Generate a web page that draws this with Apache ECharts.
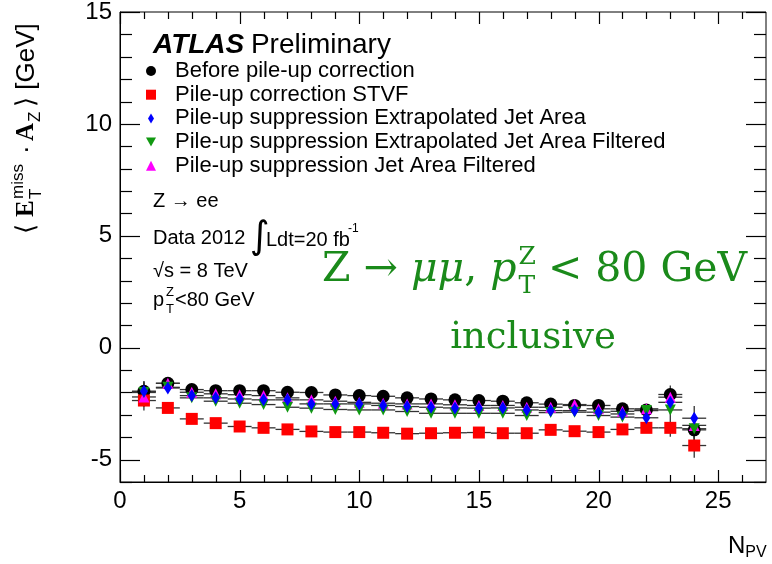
<!DOCTYPE html>
<html>
<head>
<meta charset="utf-8">
<script src="https://cdn.jsdelivr.net/npm/echarts@6/dist/echarts.min.js"></script>
<style>
html, body { margin: 0; padding: 0; background: #fff; }
#main { width: 772px; height: 564px; }
</style>
</head>
<body>
<div id="main"></div>
<script>
// number of primary vertices
const nPV = [1, 2, 3, 4, 5, 6, 7, 8, 9, 10, 11, 12, 13, 14, 15, 16, 17, 18, 19, 20, 21, 22, 23, 24]
// <MET . A_Z> [GeV] per method
const beforeCorr = [-1.95, -1.59, -1.87, -1.92, -1.92, -1.92, -1.99, -2.00, -2.11, -2.14, -2.17, -2.24, -2.29, -2.33, -2.36, -2.39, -2.46, -2.52, -2.58, -2.58, -2.73, -2.78, -2.09, -3.67]
const stvf = [-2.36, -2.69, -3.18, -3.37, -3.52, -3.58, -3.65, -3.74, -3.77, -3.77, -3.80, -3.84, -3.82, -3.80, -3.79, -3.82, -3.82, -3.67, -3.73, -3.77, -3.65, -3.58, -3.58, -4.37]
const extrapJetArea = [-1.95, -1.80, -2.14, -2.24, -2.29, -2.33, -2.33, -2.51, -2.51, -2.51, -2.58, -2.63, -2.66, -2.69, -2.70, -2.69, -2.78, -2.81, -2.81, -2.88, -2.96, -3.13, -2.44, -3.15]
const extrapJetAreaFilt = [-2.00, -1.77, -2.24, -2.39, -2.48, -2.54, -2.66, -2.70, -2.76, -2.78, -2.78, -2.85, -2.93, -2.93, -2.93, -2.93, -3.03, -2.90, -2.88, -3.03, -3.10, -2.81, -2.78, -3.62]
const jetAreaFilt = [-2.20, -1.59, -1.99, -2.06, -2.10, -2.14, -2.24, -2.33, -2.39, -2.44, -2.48, -2.51, -2.51, -2.55, -2.58, -2.58, -2.66, -2.66, -2.54, -2.73, -2.84, -2.73, -2.21, -3.47]
// vertical (stat) error, same for all methods
const yErr = [0.45, 0.10, 0.05, 0.04, 0.03, 0.03, 0.03, 0.03, 0.03, 0.03, 0.03, 0.03, 0.03, 0.03, 0.04, 0.04, 0.05, 0.06, 0.08, 0.10, 0.12, 0.18, 0.40, 0.55]
// axis ticks
const xMajorTicks = [0, 5, 10, 15, 20, 25]
const xMinorTicks = [1, 2, 3, 4, 6, 7, 8, 9, 11, 12, 13, 14, 16, 17, 18, 19, 21, 22, 23, 24, 26]
const yMajorTicks = [-5, 0, 5, 10, 15]
const yMinorTicks = [-6, -4, -3, -2, -1, 1, 2, 3, 4, 6, 7, 8, 9, 11, 12, 13, 14]
const xRange = [0, 27]
const yRange = [-6, 15]

const seriesNames = [
    'Before pile-up correction',
    'Pile-up correction STVF',
    'Pile-up suppression Extrapolated Jet Area',
    'Pile-up suppression Extrapolated Jet Area Filtered',
    'Pile-up suppression Jet Area Filtered'
]

const sans = 'Liberation Sans'
const serif = 'DejaVu Serif'
const green = '#1a8a1a'
const triDown = 'path://M0,0 L10,0 L5,9 Z'

let myChart = echarts.init(document.getElementById('main'))

// text width helper for placing the stacked sub/superscripts
let ctx = document.createElement('canvas').getContext('2d')
function textW (s, size, style) {
    ctx.font = (style || '') + ' ' + size + 'px "' + serif + '"'
    return ctx.measureText(s).width
}

function errBars (vals, z) {
    return {
        type: 'custom',
        silent: true,
        z: z,
        data: nPV.map((n, i) => [n, vals[i], yErr[i]]),
        renderItem: function (params, api) {
            let x = api.value(0), y = api.value(1), e = api.value(2)
            let a = api.coord([x - 0.5, y]), b = api.coord([x + 0.5, y])
            let t = api.coord([x, y + e]), u = api.coord([x, y - e])
            return {
                type: 'group',
                children: [
                    { type: 'line', shape: { x1: a[0], y1: a[1], x2: b[0], y2: b[1] }, style: { stroke: '#333', lineWidth: 1.3 } },
                    { type: 'line', shape: { x1: t[0], y1: t[1], x2: u[0], y2: u[1] }, style: { stroke: '#333', lineWidth: 1.3 } }
                ]
            }
        }
    }
}

// ROOT frame ticks (inward, all four sides): [x, y, pixel dx, pixel dy]
let tickDefs = []
xMajorTicks.forEach(v => { tickDefs.push([v, yRange[0], 0, -12]); tickDefs.push([v, yRange[1], 0, 12]) })
xMinorTicks.forEach(v => { tickDefs.push([v, yRange[0], 0, -7]); tickDefs.push([v, yRange[1], 0, 7]) })
yMajorTicks.forEach(v => { tickDefs.push([xRange[0], v, 20, 0]); tickDefs.push([xRange[1], v, -20, 0]) })
yMinorTicks.forEach(v => { tickDefs.push([xRange[0], v, 12, 0]); tickDefs.push([xRange[1], v, -12, 0]) })

function pts (name, vals, symbol, size, color, z) {
    return {
        name: name,
        type: 'scatter',
        z: z,
        symbol: symbol,
        symbolSize: size,
        itemStyle: { color: color, opacity: 1 },
        data: nPV.map((n, i) => [n, vals[i]])
    }
}

let txt = (x, y, text, size, extra) => Object.assign({
    type: 'text', x: x, y: y,
    style: Object.assign({ text: text, fontSize: size, fontFamily: sans, fill: '#000', align: 'left', verticalAlign: 'middle' }, extra || {})
})

// green annotation layout
const gSize = 41
let gX = 322
let w1 = textW('Z \u2192 ', gSize) + textW('\u03BC\u03BC', gSize, 'italic') + textW(', ', gSize) + textW('p', gSize, 'italic')
let subX = gX + w1 + 2
let ltX = subX + textW('Z', 25) + 12

let graphics = [
    // ATLAS label
    {
        type: 'text', x: 153, y: 45,
        style: {
            text: '{a|ATLAS}  {b|Preliminary}', verticalAlign: 'middle',
            rich: {
                a: { fontSize: 28, fontWeight: 'bold', fontStyle: 'italic', fontFamily: sans, fill: '#000' },
                b: { fontSize: 28, fontFamily: sans, fill: '#000' }
            }
        }
    },
    // info block
    txt(153, 201, 'Z \u2192 ee', 20),
    txt(153, 238, 'Data 2012', 20),
    txt(250, 238, '\u222B', 38, { fontFamily: 'DejaVu Sans' }),
    txt(266, 240, 'Ldt=20 fb', 20),
    txt(348, 229, '-1', 12),
    txt(153, 271, '\u221As = 8 TeV', 20),
    txt(153, 300, 'p', 20),
    txt(166, 292, 'Z', 13),
    txt(166, 309, 'T', 13),
    txt(175, 300, '<80 GeV', 20),
    // green annotation
    {
        type: 'text', x: gX, y: 270,
        style: {
            text: '{n|Z \u2192 }{i|\u03BC\u03BC}{n|, }{i|p}', verticalAlign: 'middle',
            rich: {
                n: { fontSize: gSize, fontFamily: serif, fill: green },
                i: { fontSize: gSize, fontFamily: serif, fontStyle: 'italic', fill: green }
            }
        }
    },
    txt(subX, 257, 'Z', 25, { fontFamily: serif, fill: green }),
    txt(subX, 286, 'T', 25, { fontFamily: serif, fill: green }),
    txt(ltX, 270, '< 80 GeV', gSize, { fontFamily: serif, fill: green }),
    txt(533, 338, 'inclusive', 37, { fontFamily: serif, fill: green, align: 'center' }),
    // y axis title (rotated)
    {
        type: 'group', x: 27, y: 234, rotation: Math.PI / 2,
        children: [
            txt(0, 0, '\u27E8', 26),
            txt(17, 0, 'E', 25, { fontFamily: 'Liberation Serif', fontWeight: 'bold' }),
            txt(35, -9, 'miss', 17),
            txt(35, 9, 'T', 17),
            txt(80, 0, '\u00B7', 26),
            txt(93, 0, 'A', 25, { fontFamily: 'Liberation Serif', fontWeight: 'bold' }),
            txt(112, 8, 'Z', 17),
            txt(127, 0, '\u27E9 [GeV]', 26)
        ]
    },
    // x axis title
    {
        type: 'text', x: 728, y: 546,
        style: {
            text: '{n|N}{s|PV}', verticalAlign: 'middle',
            rich: {
                n: { fontSize: 24, fontFamily: sans, fill: '#000' },
                s: { fontSize: 16, fontFamily: sans, fill: '#000', padding: [14, 0, 0, 0] }
            }
        }
    }
]

let option = {
    animation: false,
    grid: { left: 120, right: 6, top: 10, bottom: 82, show: true, borderColor: '#000', borderWidth: 1 },
    xAxis: [{
        type: 'value', min: xRange[0], max: xRange[1],
        axisLine: { show: true, onZero: false, lineStyle: { color: '#000' } },
        axisTick: { show: false },
        axisLabel: { customValues: xMajorTicks, color: '#000', fontSize: 24, fontFamily: sans, margin: 7 },
        splitLine: { show: false }
    }],
    yAxis: [{
        type: 'value', min: yRange[0], max: yRange[1],
        axisLine: { show: true, onZero: false, lineStyle: { color: '#000' } },
        axisTick: { show: false },
        axisLabel: { customValues: yMajorTicks, color: '#000', fontSize: 24, fontFamily: sans, margin: 8 },
        splitLine: { show: false }
    }],
    legend: {
        orient: 'vertical',
        left: 141,
        top: 55,
        itemWidth: 10,
        itemHeight: 10,
        itemGap: 1.7,
        textStyle: { fontSize: 22, lineHeight: 20.5, fontFamily: sans, color: '#000', padding: [0, 0, 0, 14] },
        data: [
            { name: seriesNames[0], icon: 'circle' },
            { name: seriesNames[1], icon: 'rect' },
            { name: seriesNames[2], icon: 'path://M3,0 L6,5 L3,10 L0,5 Z' },
            { name: seriesNames[3], icon: triDown },
            { name: seriesNames[4], icon: 'triangle' }
        ]
    },
    graphic: graphics,
    series: [
        errBars(beforeCorr, 1),
        errBars(stvf, 1),
        errBars(extrapJetArea, 1),
        errBars(extrapJetAreaFilt, 1),
        errBars(jetAreaFilt, 1),
        pts(seriesNames[0], beforeCorr, 'circle', 13, '#000000', 3),
        pts(seriesNames[1], stvf, 'rect', 12, '#ff0000', 4),
        pts(seriesNames[4], jetAreaFilt, 'triangle', 11, '#ff00ff', 5),
        pts(seriesNames[3], extrapJetAreaFilt, triDown, 11, '#119911', 6),
        pts(seriesNames[2], extrapJetArea, 'diamond', [8, 13], '#0000ff', 7)
    ]
}
myChart.setOption(option)

// place the frame ticks through the grid's own value -> pixel conversion
let tickLines = tickDefs.map(t => {
    let p = myChart.convertToPixel({ xAxisIndex: 0, yAxisIndex: 0 }, [t[0], t[1]])
    let px = t[2] === 0 ? Math.round(p[0]) + 0.5 : p[0]
    let py = t[3] === 0 ? Math.round(p[1]) + 0.5 : p[1]
    return {
        type: 'line', z: 100, silent: true,
        shape: { x1: px, y1: py, x2: px + t[2], y2: py + t[3] },
        style: { stroke: '#000', lineWidth: 1.2 }
    }
})
myChart.setOption({ graphic: graphics.concat(tickLines) })
</script>
</body>
</html>
